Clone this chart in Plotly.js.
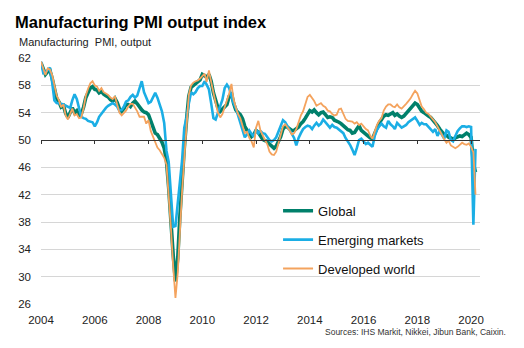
<!DOCTYPE html>
<html>
<head>
<meta charset="utf-8">
<script src="https://cdn.plot.ly/plotly-3.0.1.min.js"></script>
<style>
html,body{margin:0;padding:0;background:#fff;}
#chart{width:524px;height:348px;}
</style>
</head>
<body>
<div id="chart"></div>
<script>
// Monthly data, Jan 2004 - Mar 2020
const startYear = 2004;

const globalPMI = [
  61.3, 60.3, 59.6, 60.0, 60.2, 59.0, 57.6, 56.1, 55.6, 54.8, 55.0, 53.9, // 2004
  53.3, 54.0, 54.7, 54.0, 54.3, 53.6, 53.8, 54.8, 56.2, 56.9, 57.6, 57.8, // 2005
  57.4, 57.3, 56.9, 57.1, 56.7, 56.5, 56.3, 55.9, 55.7, 56.1, 55.5, 54.6, // 2006
  54.2, 54.6, 55.2, 55.2, 54.9, 55.4, 55.7, 55.3, 54.8, 54.4, 54.1, 54.0, // 2007
  53.7, 52.7, 52.0, 51.0, 50.8, 50.3, 49.7, 48.8, 46.9, 43.0, 37.6, 33.2, // 2008
  29.3, 32.7, 38.6, 44.4, 48.8, 53.0, 56.4, 57.7, 58.0, 58.2, 58.5, 58.8, // 2009
  59.6, 59.3, 59.2, 59.6, 58.6, 56.9, 55.7, 54.7, 54.2, 54.5, 54.9, 55.2, // 2010
  56.4, 56.9, 55.4, 54.4, 54.0, 53.7, 53.1, 52.0, 51.4, 50.9, 50.5, 50.8, // 2011
  51.4, 51.1, 50.7, 50.1, 49.9, 49.8, 49.4, 49.1, 48.8, 49.1, 49.8, 50.5, // 2012
  51.6, 52.0, 51.9, 51.6, 51.4, 51.4, 51.6, 51.9, 52.4, 52.7, 53.2, 53.7, // 2013
  54.3, 54.1, 54.4, 54.0, 53.7, 54.0, 54.1, 53.7, 53.3, 53.4, 53.3, 52.9, // 2014
  52.8, 52.6, 52.4, 52.0, 51.8, 51.5, 51.4, 51.0, 51.1, 51.6, 52.1, 51.4, // 2015
  51.1, 50.9, 50.6, 50.3, 50.2, 51.0, 51.9, 52.5, 53.0, 53.5, 53.7, 53.6, // 2016
  53.8, 54.0, 53.6, 53.8, 53.5, 53.3, 53.5, 53.9, 54.2, 54.6, 55.0, 55.4, // 2017
  55.2, 54.7, 54.2, 54.0, 53.7, 53.5, 53.3, 52.9, 52.6, 52.1, 51.6, 51.2, // 2018
  50.8, 50.7, 50.4, 50.3, 50.1, 50.3, 50.4, 50.6, 50.5, 50.8, 51.0, 50.8, // 2019
  50.4, 46.5, 45.3                                                        // 2020
];

const emergingPMI = [
  61.5, 59.8, 59.9, 60.3, 60.6, 58.4, 55.8, 55.4, 55.4, 55.3, 55.2, 55.0, // 2004
  54.9, 54.7, 55.8, 56.7, 56.0, 54.6, 53.4, 53.2, 53.1, 52.8, 52.7, 52.6, // 2005
  52.0, 52.6, 53.4, 53.9, 54.3, 54.7, 55.0, 55.2, 55.4, 55.2, 54.9, 54.3, // 2006
  54.4, 54.9, 55.6, 55.8, 56.3, 56.6, 56.2, 56.5, 57.6, 58.6, 57.0, 56.1, // 2007
  55.4, 55.6, 56.3, 56.9, 56.2, 55.0, 54.2, 52.5, 48.4, 46.8, 41.5, 37.3, // 2008
  37.4, 40.8, 43.0, 47.0, 51.8, 53.3, 55.3, 57.0, 56.7, 57.0, 57.6, 57.9, // 2009
  57.9, 58.6, 58.1, 57.4, 55.4, 53.2, 53.0, 53.9, 54.9, 55.9, 57.6, 58.1, // 2010
  57.6, 56.4, 55.4, 54.7, 53.6, 52.5, 51.5, 50.4, 50.8, 51.4, 50.9, 50.5, // 2011
  51.5, 51.0, 51.3, 51.0, 50.9, 50.5, 50.0, 49.8, 50.0, 50.4, 51.3, 52.1, // 2012
  52.9, 52.6, 52.1, 51.5, 50.8, 50.3, 49.2, 50.3, 51.0, 51.6, 51.9, 52.1, // 2013
  52.0, 51.6, 52.1, 52.5, 52.1, 52.4, 53.0, 52.6, 52.1, 51.8, 52.2, 51.9, // 2014
  51.8, 51.5, 51.3, 51.0, 50.3, 49.8, 49.3, 48.6, 47.8, 48.8, 50.0, 50.2, // 2015
  49.8, 49.4, 49.6, 49.3, 49.0, 50.6, 51.5, 52.0, 52.4, 52.0, 51.8, 52.8, // 2016
  52.3, 52.0, 51.6, 52.5, 52.1, 51.8, 52.0, 52.2, 52.6, 52.8, 53.0, 53.3, // 2017
  52.8, 52.2, 52.5, 52.3, 52.3, 51.9, 51.6, 51.2, 51.6, 50.6, 51.3, 50.8, // 2018
  50.2, 51.4, 51.2, 50.0, 49.8, 50.6, 51.3, 51.7, 52.0, 52.0, 51.9, 52.0, // 2019
  51.9, 37.6, 48.7                                                        // 2020
];

const developedPMI = [
  61.5, 60.5, 59.5, 60.5, 60.3, 59.5, 58.0, 56.5, 55.8, 54.8, 55.2, 53.6, // 2004
  53.0, 53.8, 54.6, 53.6, 53.8, 53.2, 53.3, 54.6, 56.5, 57.5, 58.3, 58.6, // 2005
  58.0, 57.8, 57.2, 57.6, 57.0, 56.8, 56.6, 56.2, 56.0, 56.4, 55.2, 54.0, // 2006
  53.6, 54.0, 54.3, 54.9, 55.3, 55.3, 54.8, 54.2, 53.4, 53.4, 53.4, 52.4, // 2007
  52.9, 51.3, 50.5, 49.8, 48.9, 48.5, 47.9, 47.4, 46.4, 42.0, 37.0, 31.5, // 2008
  26.9, 30.5, 36.5, 42.5, 47.3, 52.5, 56.6, 58.0, 58.4, 58.6, 58.7, 59.0, // 2009
  59.3, 59.7, 58.5, 60.2, 58.5, 56.6, 55.4, 54.0, 53.3, 53.8, 54.8, 55.6, // 2010
  56.8, 58.2, 56.0, 54.8, 53.8, 53.2, 52.2, 51.0, 51.2, 50.3, 49.8, 48.9, // 2011
  51.8, 52.8, 51.4, 50.6, 50.0, 49.4, 48.3, 47.9, 47.8, 48.3, 49.5, 51.0, // 2012
  52.0, 52.3, 51.9, 51.4, 50.8, 51.0, 51.6, 52.6, 53.6, 54.2, 55.2, 56.3, // 2013
  56.6, 56.2, 55.7, 55.0, 55.2, 55.4, 55.0, 54.8, 54.3, 54.2, 53.8, 53.6, // 2014
  53.7, 54.5, 54.6, 53.8, 53.1, 52.8, 52.8, 52.7, 52.4, 52.6, 52.2, 52.4, // 2015
  52.0, 51.6, 51.4, 50.6, 50.2, 51.3, 52.2, 52.8, 53.2, 54.3, 54.9, 55.2, // 2016
  55.2, 54.9, 54.8, 55.2, 54.8, 54.6, 54.9, 55.3, 55.7, 56.1, 56.7, 57.2, // 2017
  56.8, 55.6, 54.9, 54.5, 54.0, 53.8, 53.4, 53.1, 52.6, 52.0, 51.3, 50.8, // 2018
  50.1, 49.6, 49.9, 49.2, 49.0, 48.8, 49.0, 49.3, 49.6, 49.4, 49.3, 49.5, // 2019
  49.0, 48.2, 42.0                                                        // 2020
];

const seriesNames = ['Global', 'Emerging markets', 'Developed world'];
const tickYears = [2004, 2006, 2008, 2010, 2012, 2014, 2016, 2018, 2020];

function monthDates(n) {
  const d = [];
  for (let i = 0; i < n; i++) {
    const y = startYear + Math.floor(i / 12);
    const m = (i % 12) + 1;
    d.push(y + '-' + String(m).padStart(2, '0') + '-01');
  }
  return d;
}
const dates = monthDates(globalPMI.length);
const tickDates = tickYears.map(y => y + '-01-01');
const tickText = tickYears.map(String);

const FONT = 'Liberation Sans, Arial, sans-serif';

const traces = [
  {x: dates, y: globalPMI, name: seriesNames[0], type: 'scatter', mode: 'lines',
   line: {color: '#00806B', width: 3.6}, legendgroup: 'a'},
  {x: dates, y: emergingPMI, name: seriesNames[1], type: 'scatter', mode: 'lines',
   line: {color: '#1BAEE5', width: 2.6}, legendgroup: 'b'},
  {x: dates, y: developedPMI, name: seriesNames[2], type: 'scatter', mode: 'lines',
   line: {color: '#F4A35E', width: 1.8}, legendgroup: 'c'},
  {x: [], y: [], xaxis: 'x2', yaxis: 'y', type: 'scatter', mode: 'lines',
   showlegend: false, hoverinfo: 'skip'}
];

const layout = {
  width: 524, height: 348,
  margin: {l: 41, r: 44, t: 58, b: 44, pad: 0},
  paper_bgcolor: '#ffffff', plot_bgcolor: '#ffffff',
  title: {
    text: '<b>Manufacturing PMI output index</b>',
    font: {family: FONT, size: 16.5, color: '#000'},
    xref: 'container', x: 15 / 524, xanchor: 'left',
    yref: 'container', y: 1 - 22 / 348, yanchor: 'middle'
  },
  xaxis: {
    type: 'date', range: ['2004-01-01', '2020-05-01'],
    tickmode: 'array', tickvals: tickDates, ticktext: tickText,
    showgrid: false, zeroline: false, showline: false, ticks: '',
    tickfont: {family: FONT, size: 11.5, color: '#222'},
    ticklabelstandoff: 7
  },
  xaxis2: {
    type: 'date', overlaying: 'x', matches: 'x', anchor: 'free',
    position: (50 - 26) / (62 - 26),
    showline: true, linecolor: '#333', linewidth: 1,
    ticks: 'outside', ticklen: 3, tickcolor: '#333', tickwidth: 1,
    tickmode: 'array', tickvals: tickDates, showticklabels: false,
    showgrid: false, zeroline: false
  },
  yaxis: {
    range: [26, 62], tick0: 26, dtick: 4,
    showgrid: true, gridcolor: '#d6d6d6', gridwidth: 1,
    zeroline: false, showline: false, ticks: '',
    tickfont: {family: FONT, size: 11.5, color: '#222'},
    ticklabelstandoff: 9
  },
  showlegend: true,
  legend: {
    x: 0.54, y: 0.44, xanchor: 'left', yanchor: 'top',
    bgcolor: 'rgba(0,0,0,0)', borderwidth: 0,
    font: {family: FONT, size: 13, color: '#111'},
    traceorder: 'grouped', tracegroupgap: 9, itemwidth: 30
  },
  annotations: [
    {text: 'Manufacturing\u00a0 PMI, output', xref: 'paper', yref: 'paper',
     x: (17 - 41) / 439, y: (304 - 42) / 246, xanchor: 'left', yanchor: 'middle',
     showarrow: false, font: {family: FONT, size: 11, color: '#222'}},
    {text: 'Sources: IHS Markit, Nikkei, Jibun Bank, Caixin.', xref: 'paper', yref: 'paper',
     x: (508 - 41) / 439, y: (304 - 332) / 246, xanchor: 'right', yanchor: 'middle',
     showarrow: false, font: {family: FONT, size: 8.5, color: '#333'}}
  ]
};

Plotly.newPlot('chart', traces, layout, {staticPlot: true, displayModeBar: false});
</script>
</body>
</html>
